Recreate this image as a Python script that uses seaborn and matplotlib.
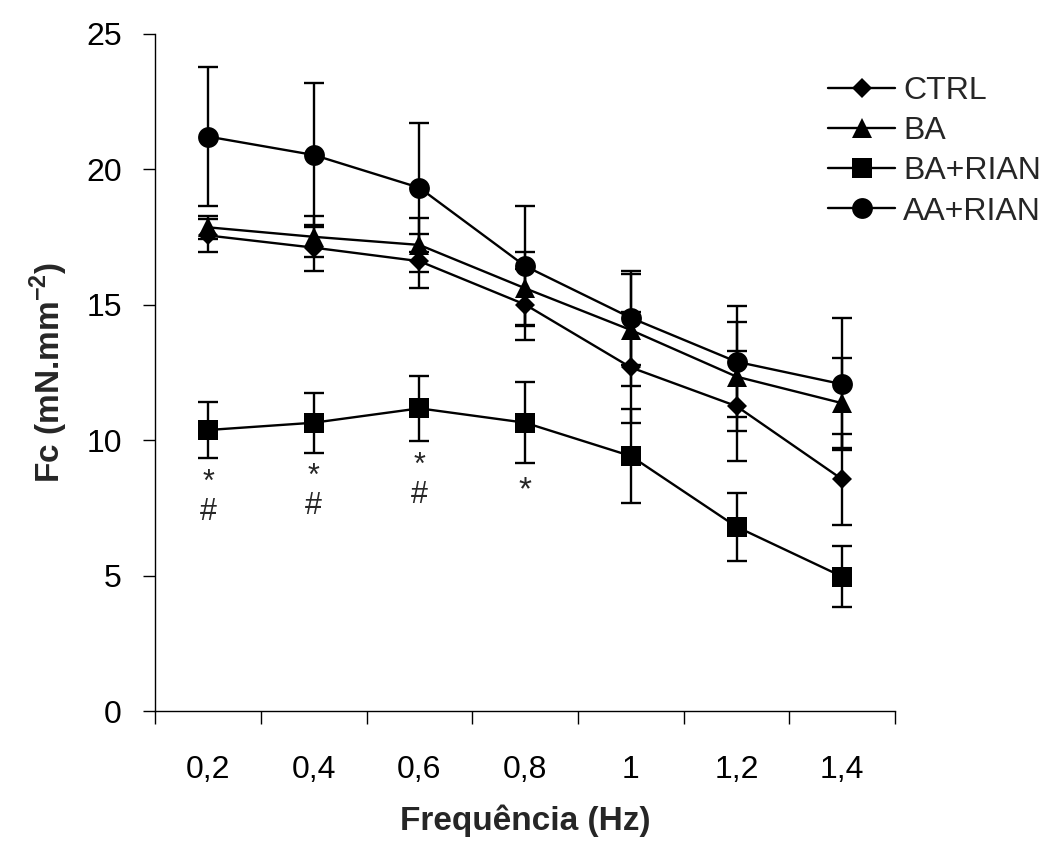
import numpy as np
import pandas as pd
import matplotlib
matplotlib.use("Agg")
import matplotlib.pyplot as plt
from matplotlib.lines import Line2D
import seaborn as sns

freq_labels = ["0,2", "0,4", "0,6", "0,8", "1", "1,2", "1,4"]
groups = ["CTRL", "BA", "BA+RIAN", "AA+RIAN"]

ctrl_mean = [17.55, 17.1, 16.6, 15.0, 12.68, 11.25, 8.55]
ctrl_err = [0.6, 0.85, 1.0, 1.3, 2.04, 2.02, 1.67]
ba_mean = [17.85, 17.5, 17.2, 15.6, 14.06, 12.34, 11.36]
ba_err = [0.42, 0.75, 1.0, 1.35, 2.06, 2.0, 1.65]
barian_mean = [10.37, 10.64, 11.17, 10.64, 9.41, 6.8, 4.96]
barian_err = [1.05, 1.1, 1.2, 1.5, 1.75, 1.25, 1.12]
aarian_mean = [21.2, 20.52, 19.31, 16.42, 14.51, 12.89, 12.06]
aarian_err = [2.55, 2.66, 2.38, 2.2, 1.74, 2.05, 2.43]

# significance marks under BA+RIAN (index -> mark)
sig_idx = [0, 1, 2, 3]
sig_marks = ["*\n#", "*\n#", "*\n#", "*"]

means = {"CTRL": ctrl_mean, "BA": ba_mean, "BA+RIAN": barian_mean, "AA+RIAN": aarian_mean}
errs = {"CTRL": ctrl_err, "BA": ba_err, "BA+RIAN": barian_err, "AA+RIAN": aarian_err}
markers = {"CTRL": "D", "BA": "^", "BA+RIAN": "s", "AA+RIAN": "o"}
msizes = {"CTRL": 10.5, "BA": 15, "BA+RIAN": 15, "AA+RIAN": 15}

rows = []
for g in groups:
    for i, (m, e) in enumerate(zip(means[g], errs[g])):
        rows.append({"x": i, "freq": freq_labels[i], "group": g, "Fc": m, "err": e})
df = pd.DataFrame(rows)

sns.set_theme(style="white")
plt.rcParams["font.family"] = ["Liberation Sans", "DejaVu Sans"]
plt.rcParams["mathtext.fontset"] = "custom"
plt.rcParams["mathtext.rm"] = "Liberation Sans"
plt.rcParams["mathtext.bf"] = "Liberation Sans:bold"

fig = plt.figure(figsize=(10.63, 8.5), dpi=100)
ax = fig.add_axes([0.146, 0.1635, 0.696, 0.797])

for g in groups:
    sub = df[df.group == g]
    ax.errorbar(sub["x"], sub["Fc"], yerr=sub["err"], fmt="none", ecolor="black",
                elinewidth=1.7, capsize=7.5, capthick=1.7, zorder=2)

sns.lineplot(data=df, x="x", y="Fc", hue="group", style="group",
             palette=["black"] * 4, markers=markers, dashes=False,
             linewidth=1.7, ax=ax, legend=False, zorder=3, markeredgewidth=0)

for line, g in zip(ax.get_lines()[-4:], groups):
    line.set_markersize(msizes[g])

# annotations
for i, mark in zip(sig_idx, sig_marks):
    low = barian_mean[i] - barian_err[i]
    if "\n" in mark:
        ax.text(i, low - 1.45, mark, ha="center", va="center", fontsize=22,
                linespacing=0.95, multialignment="center")
    else:
        ax.text(i, low - 1.0, mark, ha="center", va="center", fontsize=24)

ax.set_xlim(-0.5, 6.5)
ax.set_ylim(0, 25)
ax.set_yticks([0, 5, 10, 15, 20, 25])
ax.set_yticklabels(["0", "5", "10", "15", "20", "25"], fontsize=23)
ax.set_xticks(np.arange(-0.5, 7.0, 1.0))
ax.set_xticklabels([])
ax.set_xticks(np.arange(7), minor=True)
ax.set_xticklabels(freq_labels, minor=True, fontsize=23)
ax.tick_params(axis="x", which="major", direction="out", length=9, width=1, color="black", bottom=True)
ax.tick_params(axis="x", which="minor", length=0, pad=32, labelcolor="black")
ax.tick_params(axis="y", direction="out", length=9, width=1, color="black", left=True, pad=15, labelcolor="black")

for s in ["top", "right"]:
    ax.spines[s].set_visible(False)
for s in ["left", "bottom"]:
    ax.spines[s].set_color("black")
    ax.spines[s].set_linewidth(1)

ax.set_xlabel("Frequência (Hz)", fontsize=24, fontweight="bold", labelpad=14)
ax.set_ylabel(r"Fc (mN.mm$^{\mathbf{-2}}$)", fontsize=24, fontweight="bold", labelpad=12)

handles = [Line2D([], [], color="black", linewidth=1.7, marker=markers[g],
                  markersize=msizes[g], markeredgewidth=0) for g in groups]
fig.legend(handles, groups, loc="center left", bbox_to_anchor=(0.752, 0.822),
           frameon=False, fontsize=23, handlelength=2.1, handletextpad=0.25,
           labelspacing=0.32)

fig.savefig("out.png", dpi=100)
